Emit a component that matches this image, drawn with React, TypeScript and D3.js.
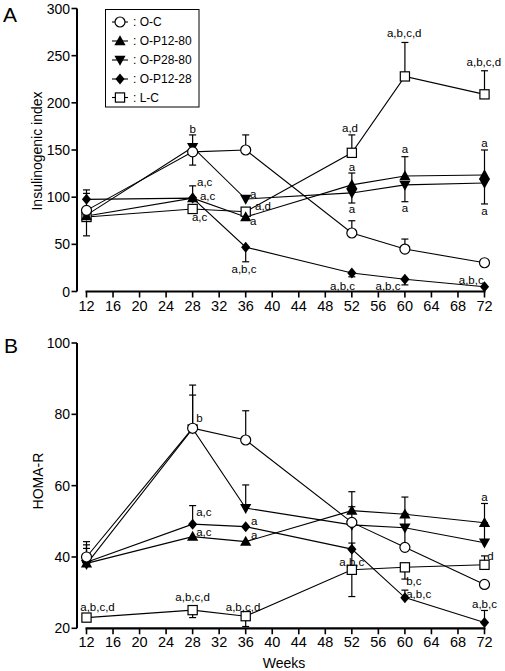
import React from "react";
import * as d3 from "d3";

const weeks = [12, 28, 36, 52, 60, 72];
const xTicks = [12, 16, 20, 24, 28, 32, 36, 40, 44, 48, 52, 56, 60, 64, 68, 72];
const yTicksA = [0, 50, 100, 150, 200, 250, 300];
const yTicksB = [20, 40, 60, 80, 100];
const seriesNames = ["O-C", "O-P12-80", "O-P28-80", "O-P12-28", "L-C"];
const seriesShapes = ["circle", "triUp", "triDown", "diamond", "square"];
const drawOrder = [4, 3, 1, 2, 0];

// Panel A: Insulinogenic index
const ocA = [86, 148, 150, 62, 45, 30.5];
const op1280A = [80, 99, 79, 113, 122.5, 123.5];
const op2880A = [81, 153, 98, 104.5, 113, 115];
const op1228A = [97.7, 99, 47, 19.6, 13, 5];
const lcA = [79, 87.5, 84.6, 147, 228, 209];
// errors as [down, up]
const ocAErr = [[0, 18], [14, 0], [0, 16], [0, 13], [0, 10.6], [0, 0]];
const op1280AErr = [[0, 0], [0, 13], [0, 0], [0, 12.6], [0, 20.4], [0, 26.5]];
const op2880AErr = [[0, 0], [0, 13], [0, 0], [10.7, 0], [17.8, 0], [22.2, 0]];
const op1228AErr = [[0, 10], [0, 0], [15.5, 0], [4, 0], [6, 0], [0, 0]];
const lcAErr = [[20, 0], [0, 0], [0, 0], [0, 19], [0, 36], [0, 25]];

// Panel B: HOMA-R
const ocB = [40, 76.1, 72.8, 49.7, 42.7, 32.3];
const op1280B = [38.2, 45.7, 44.3, 53, 52, 49.6];
const op2880B = [38, 76, 53.7, 49, 48.2, 44];
const op1228B = [38.5, 49.2, 48.5, 42.2, 28.6, 21.6];
const lcB = [23, 25.1, 23.4, 36.4, 37.1, 37.8];
const ocBErr = [[0, 4.3], [0, 12.1], [0, 8.2], [0, 4.4], [0, 9.5], [0, 0]];
const op1280BErr = [[0, 0], [0, 0], [0, 0], [0, 5.3], [0, 4.8], [0, 5.4]];
const op2880BErr = [[0, 5.4], [0, 9.4], [0, 6.5], [0, 0], [0, 0], [0, 5.6]];
const op1228BErr = [[0, 3.9], [0, 5.2], [0, 0], [0, 7], [0, 2.1], [0, 3.4]];
const lcBErr = [[0, 0], [2.1, 0], [2.9, 0], [7.5, 7.5], [3.3, 0], [0, 2.5]];

// annotation labels: text, week, value, anchor
const annTextA = ["b", "a,c", "a,c", "a,c", "a", "a,d", "a", "a,b,c", "a,d", "a", "a", "a", "a", "a", "a", "a,b,c,d", "a,b,c,d", "a,b,c", "a,b,c", "a,b,c"];
const annWeekA = [28, 28.66, 29.1, 27.9, 36.65, 37.4, 36.65, 35.74, 51.73, 52, 52, 60, 60, 72, 72, 59.9, 71.9, 50.6, 57.45, 70];
const annValA = [168, 112, 97.5, 74.7, 99.1, 86.4, 70.5, 19.6, 169, 127.7, 82.7, 146.8, 84.3, 153, 81, 269.8, 239, 1.6, 1.6, 8];
const annAnchorA = ["middle", "start", "start", "start", "start", "start", "start", "middle", "middle", "middle", "middle", "middle", "middle", "middle", "middle", "middle", "middle", "middle", "middle", "middle"];

const annTextB = ["b", "a,c", "a,c", "a", "a", "a,b,c,d", "a,b,c,d", "a,b,c,d", "a,b,c", "b,c", "a,b,c", "a,b,c", "d", "a"];
const annWeekB = [28.53, 28.53, 28.53, 36.8, 36.8, 13.66, 28, 35.6, 52, 60.2, 60.2, 72, 72.4, 72];
const annValB = [77.9, 51.6, 45.8, 48.9, 45.1, 24.85, 27.65, 24.85, 37.5, 32.1, 28.5, 25.7, 39.15, 55.7];
const annAnchorB = ["start", "start", "start", "start", "start", "middle", "middle", "middle", "middle", "start", "start", "middle", "start", "middle"];

const FONT = "'Liberation Sans', Arial, Helvetica, sans-serif";

const x = d3.scaleLinear().domain([12, 72]).range([86.5, 484.5]);
const yA = d3.scaleLinear().domain([0, 300]).range([291.5, 8.5]);
const yB = d3.scaleLinear().domain([20, 100]).range([628.3, 343]);

function Marker({ shape, cx, cy }: { shape: string; cx: number; cy: number }) {
  if (shape === "circle")
    return <circle cx={cx} cy={cy} r={5} fill="white" stroke="black" strokeWidth={1.2} />;
  if (shape === "square")
    return <rect x={cx - 4.6} y={cy - 4.6} width={9.2} height={9.2} fill="white" stroke="black" strokeWidth={1.2} />;
  if (shape === "triUp")
    return <path d={`M${cx},${cy - 5.8}L${cx + 5.6},${cy + 4.2}L${cx - 5.6},${cy + 4.2}Z`} fill="black" />;
  if (shape === "triDown")
    return <path d={`M${cx},${cy + 5.8}L${cx + 5.6},${cy - 4.2}L${cx - 5.6},${cy - 4.2}Z`} fill="black" />;
  return <path d={`M${cx},${cy - 5.5}L${cx + 4.6},${cy}L${cx},${cy + 5.5}L${cx - 4.6},${cy}Z`} fill="black" />;
}

function Panel({
  y, yTicks, series, errs, annText, annWeek, annVal, annAnchor,
}: {
  y: d3.ScaleLinear<number, number>;
  yTicks: number[];
  series: number[][];
  errs: number[][][];
  annText: string[];
  annWeek: number[];
  annVal: number[];
  annAnchor: string[];
}) {
  const [ymin, ymax] = y.domain();
  const axisY = y(ymin);
  const line = d3.line<number>().x((_, i) => x(weeks[i])).y((v) => y(v));
  return (
    <g>
      <line x1={77} x2={77} y1={y(ymax)} y2={y(ymin)} stroke="black" strokeWidth={2} />
      {yTicks.map((t) => (
        <g key={t}>
          <line x1={71.5} x2={77} y1={y(t)} y2={y(t)} stroke="black" strokeWidth={1.6} />
          <text x={70} y={y(t)} dy="0.36em" textAnchor="end" fontSize={14} fontFamily={FONT}>{t}</text>
        </g>
      ))}
      <line x1={x(12) - 1} x2={x(72) + 1} y1={axisY} y2={axisY} stroke="black" strokeWidth={2.2} />
      {xTicks.map((t) => (
        <g key={t}>
          <line x1={x(t)} x2={x(t)} y1={axisY} y2={axisY + 6} stroke="black" strokeWidth={1.6} />
          <text x={x(t)} y={axisY + 19} textAnchor="middle" fontSize={14.5} fontFamily={FONT}>{t}</text>
        </g>
      ))}
      {drawOrder.map((s) => (
        <path key={"l" + s} d={line(series[s]) || ""} fill="none" stroke="black" strokeWidth={1.1} />
      ))}
      {drawOrder.map((s) =>
        series[s].map((v, i) => {
          const [dn, up] = errs[s][i];
          const cx = x(weeks[i]);
          const out: any[] = [];
          if (up > 0) {
            out.push(<line key={"eu" + i} x1={cx} x2={cx} y1={y(v)} y2={y(v + up)} stroke="black" strokeWidth={1.2} />);
            out.push(<line key={"cu" + i} x1={cx - 3.5} x2={cx + 3.5} y1={y(v + up)} y2={y(v + up)} stroke="black" strokeWidth={1.2} />);
          }
          if (dn > 0) {
            out.push(<line key={"ed" + i} x1={cx} x2={cx} y1={y(v)} y2={y(v - dn)} stroke="black" strokeWidth={1.2} />);
            out.push(<line key={"cd" + i} x1={cx - 3.5} x2={cx + 3.5} y1={y(v - dn)} y2={y(v - dn)} stroke="black" strokeWidth={1.2} />);
          }
          return <g key={"e" + s + "-" + i}>{out}</g>;
        })
      )}
      {drawOrder.map((s) =>
        series[s].map((v, i) => (
          <Marker key={"m" + s + "-" + i} shape={seriesShapes[s]} cx={x(weeks[i])} cy={y(v)} />
        ))
      )}
      {annText.map((t, i) => (
        <text key={"a" + i} x={x(annWeek[i])} y={y(annVal[i])} textAnchor={annAnchor[i] as any} fontSize={11.5} fontFamily={FONT} fill="black">{t}</text>
      ))}
    </g>
  );
}

export default function App() {
  const legendY = [22, 41, 60, 79, 97.5];
  return (
    <svg width={505} height={671} style={{ position: "absolute", left: 0, top: 0, background: "white" }}>
      <rect width={505} height={671} fill="white" />
      <text x={3} y={22} fontSize={21} fontFamily={FONT}>A</text>
      <text x={4} y={353} fontSize={21} fontFamily={FONT}>B</text>
      <text transform="translate(42,151) rotate(-90)" textAnchor="middle" fontSize={14} fontFamily={FONT}>Insulinogenic index</text>
      <text transform="translate(43,481) rotate(-90)" textAnchor="middle" fontSize={14} fontFamily={FONT}>HOMA-R</text>
      <text x={284} y={668} textAnchor="middle" fontSize={14} fontFamily={FONT}>Weeks</text>
      <Panel
        y={yA}
        yTicks={yTicksA}
        series={[ocA, op1280A, op2880A, op1228A, lcA]}
        errs={[ocAErr, op1280AErr, op2880AErr, op1228AErr, lcAErr]}
        annText={annTextA}
        annWeek={annWeekA}
        annVal={annValA}
        annAnchor={annAnchorA}
      />
      <Panel
        y={yB}
        yTicks={yTicksB}
        series={[ocB, op1280B, op2880B, op1228B, lcB]}
        errs={[ocBErr, op1280BErr, op2880BErr, op1228BErr, lcBErr]}
        annText={annTextB}
        annWeek={annWeekB}
        annVal={annValB}
        annAnchor={annAnchorB}
      />
      <rect x={105.5} y={9.5} width={93.5} height={97.5} fill="white" stroke="black" strokeWidth={1} />
      {seriesNames.map((n, i) => (
        <g key={n}>
          <line x1={112} x2={128} y1={legendY[i]} y2={legendY[i]} stroke="black" strokeWidth={1.1} />
          <Marker shape={seriesShapes[i]} cx={120} cy={legendY[i]} />
          <text x={133} y={legendY[i]} dy="0.36em" fontSize={12} fontFamily={FONT}>{": " + n}</text>
        </g>
      ))}
    </svg>
  );
}
